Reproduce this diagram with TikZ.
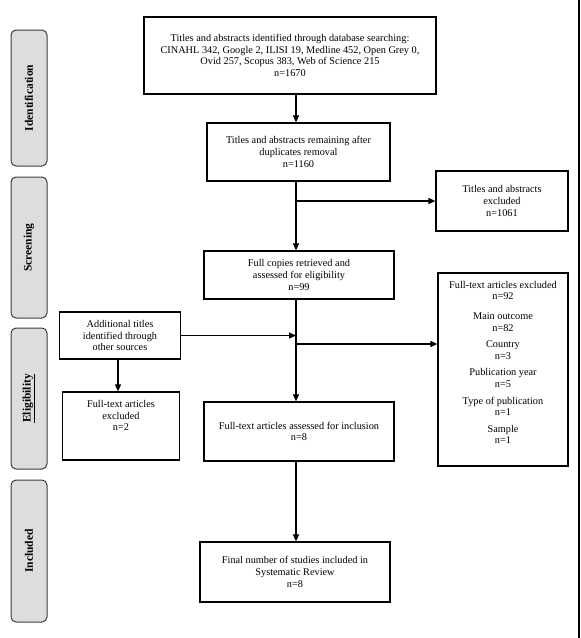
\documentclass[tikz,border=0pt]{standalone}
\usepackage{fontspec}
\setmainfont{Liberation Serif}
\usetikzlibrary{arrows.meta}
\begin{document}
\begin{tikzpicture}[x=1pt,y=-1pt,
  box/.style={draw=black, line width=1.2pt, align=center, inner sep=2pt,
    font=\fontsize{10.3}{11.8}\selectfont},
  phase/.style={draw={rgb,255:red,60;green,60;blue,60}, line width=1pt,
    fill={rgb,255:red,221;green,221;blue,221}, rounded corners=5pt,
    minimum width=36pt, inner sep=0pt},
  phasetext/.style={rotate=90, font=\fontsize{11.5}{13}\selectfont\bfseries},
  arr/.style={line width=1.3pt, -{Triangle[length=7pt,width=6pt]}}]
\useasboundingbox (0,0) rectangle (581,638);
\draw[line width=1.3pt] (579,0) -- (579,638);
% phase boxes
\node[phase, minimum height=136pt] (pid) at (29,98) {};
\node[phasetext] (tid) at (pid.center) {Identification};
\node[phase, minimum height=141pt] (psc) at (29,247.5) {};
\node[phasetext] (tsc) at (psc.center) {Screening};
\node[phase, minimum height=141pt] (pel) at (29,398.5) {};
\node[phasetext] (tel) at (pel.center) {\underline{Eligibility}};
\node[phase, minimum height=142pt] (pin) at (29,551) {};
\node[phasetext] (tin) at (pin.center) {Included};
% flow boxes
\node[box, minimum width=292pt, minimum height=77pt] (top) at (290,55.5)
  {Titles and abstracts identified through database searching:\\
   CINAHL 342, Google 2, ILISI 19, Medline 452, Open Grey 0,\\
   Ovid 257, Scopus 383, Web of Science 215\\ n=1670};
\node[box, minimum width=183pt, minimum height=58pt] (b2) at (298.5,152)
  {Titles and abstracts remaining after\\ duplicates removal\\ n=1160};
\node[box, minimum width=132pt, minimum height=60pt] (ex1) at (502,201)
  {Titles and abstracts\\ excluded\\ n=1061};
\node[box, minimum width=190pt, minimum height=48pt] (b3) at (299,275)
  {Full copies retrieved and\\ assessed for eligibility\\ n=99};
\node[box, minimum width=130pt, minimum height=193pt, text depth=14pt] (big) at (503,369.5)
  {Full-text articles excluded\\ n=92\\[8pt]
   Main outcome\\ n=82\\[4.5pt]
   Country\\ n=3\\[4.5pt]
   Publication year\\ n=5\\[4.5pt]
   Type of publication\\ n=1\\[4.5pt]
   Sample\\ n=1};
\node[box, minimum width=121.5pt, minimum height=47pt] (add) at (120,335.5)
  {Additional titles\\ identified through\\ other sources};
\node[box, minimum width=117.5pt, minimum height=68pt, text depth=21pt] (fte) at (121,426)
  {Full-text articles\\ excluded\\ n=2};
\node[box, minimum width=190pt, minimum height=59pt] (b4) at (299,431.5)
  {Full-text articles assessed for inclusion\\ n=8};
\node[box, minimum width=190pt, minimum height=60pt] (final) at (295,572)
  {Final number of studies included in\\ Systematic Review\\ n=8};
% connectors
\coordinate (sx) at (296,0);
\coordinate (ax) at (118,0);
\coordinate (j2) at (296,344);
\draw[arr] (top.south -| sx) -- (b2.north -| sx);
\draw[arr] (b2.south -| sx) -- (b3.north -| sx);
\draw[arr] (sx |- ex1.west) -- (ex1.west);
\draw[arr] (b3.south -| sx) -- (b4.north -| sx);
\draw[arr] (add.east) -- (add.east -| sx);
\draw[arr] (j2) -- (j2 -| big.west);
\draw[arr] (add.south -| ax) -- (fte.north -| ax);
\draw[arr] (b4.south -| sx) -- (final.north -| sx);
\end{tikzpicture}
\end{document}
